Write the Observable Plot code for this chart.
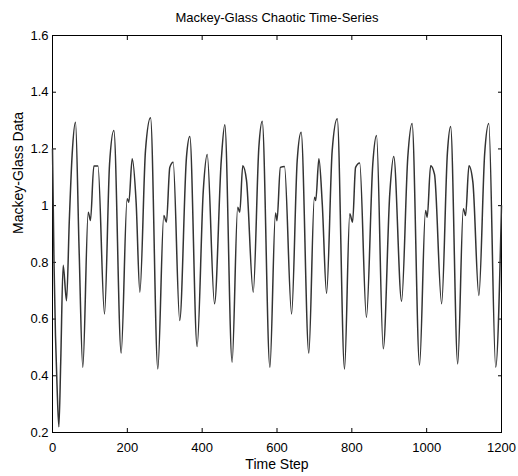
<!DOCTYPE html>
<html>
<head>
<meta charset="utf-8">
<script src="https://cdn.jsdelivr.net/npm/d3@7"></script>
<script src="https://cdn.jsdelivr.net/npm/@observablehq/plot@0.6"></script>
<style>
  html, body { margin: 0; padding: 0; background: #fff; }
  #chart { width: 518px; height: 476px; }
</style>
</head>
<body>
<div id="chart"></div>
<script>
const title = "Mackey-Glass Chaotic Time-Series";
const xLabel = "Time Step";
const yLabel = "Mackey-Glass Data";
const xTicks = [0, 200, 400, 600, 800, 1000, 1200];
const yTicks = [0.2, 0.4, 0.6, 0.8, 1.0, 1.2, 1.4, 1.6];

// Time step
const timeStep = [
  0, 4, 8, 12, 17, 22, 28.5, 37.5, 45, 52.5, 61.5, 71, 81, 95.5, 101.5, 110.5, 121.5,
  139, 152.5, 164, 183.5, 199.5, 204, 213, 223.5, 233.5, 248.5, 262, 281.5, 297.5,
  304.5, 313.5, 322.5, 340, 358, 367, 386.5, 403, 413.5, 433, 451, 460.5, 480, 495,
  500.5, 508.5, 518.5, 536.5, 551.5, 560.5, 581, 596, 600, 609, 620, 639, 654, 664.5,
  685, 700, 703.5, 712, 721, 732.5, 747.5, 761, 780.5, 794.5, 802, 810, 821, 839, 856,
  866, 884, 901.5, 912, 933, 949.5, 961, 981, 997, 1001.5, 1010.5, 1021, 1040, 1055.5,
  1064, 1083, 1098, 1104, 1113, 1123.5, 1139.5, 1155, 1166, 1184.5, 1200
];
// Mackey-Glass value
const mgValue = [
  1.20, 0.80, 0.54, 0.37, 0.22, 0.45, 0.79, 0.665, 0.95, 1.18, 1.294, 0.85, 0.43, 0.977, 0.948, 1.14, 1.14,
  0.618, 1.147, 1.265, 0.48, 1.024, 1.012, 1.165, 1.012, 0.695, 1.194, 1.31, 0.424, 0.965,
  0.942, 1.135, 1.153, 0.595, 1.17, 1.244, 0.503, 1.053, 1.18, 0.654, 1.159, 1.285, 0.448, 0.994,
  0.977, 1.141, 1.089, 0.695, 1.206, 1.298, 0.43, 0.974, 0.947, 1.135, 1.138, 0.618, 1.159, 1.259,
  0.48, 1.03, 1.018, 1.165, 1.006, 0.691, 1.194, 1.306, 0.424, 0.971, 0.942, 1.135, 1.15, 0.606, 1.147,
  1.247, 0.495, 1.044, 1.173, 0.663, 1.17, 1.29, 0.438, 0.983, 0.959, 1.141, 1.11, 0.654, 1.188,
  1.279, 0.442, 0.989, 0.965, 1.141, 1.083, 0.683, 1.183, 1.29, 0.43, 1.0
];

const data = timeStep.map((t, i) => ({t, v: mgValue[i]}));
const fmt = d => String(+d.toFixed(1));
const font = "'Liberation Sans', Arial, Helvetica, sans-serif";

const chart = Plot.plot({
  width: 518,
  height: 476,
  marginLeft: 52,
  marginRight: 17,
  marginTop: 35,
  marginBottom: 44,
  style: {fontFamily: font, fontSize: "13px", color: "#000", background: "#fff"},
  x: {domain: [0, 1200]},
  y: {domain: [0.2, 1.6]},
  marks: [
    Plot.frame({stroke: "#000", strokeWidth: 1}),
    Plot.axisX(xTicks, {anchor: "bottom", tickSize: -4, tickPadding: 14, tickFormat: fmt, label: null}),
    Plot.axisX(xTicks, {anchor: "top", tickSize: -4, tickFormat: () => "", label: null}),
    Plot.axisY(yTicks, {anchor: "left", tickSize: -4, tickPadding: 8, tickFormat: fmt, label: null}),
    Plot.axisY(yTicks, {anchor: "right", tickSize: -4, tickFormat: () => "", label: null}),
    Plot.line(data, {x: "t", y: "v", stroke: "#333", strokeWidth: 1.5, curve: "monotone-x"}),
    Plot.text([title], {frameAnchor: "top", dy: -18, lineAnchor: "middle", fontSize: 13, fill: "#000"}),
    Plot.text([xLabel], {frameAnchor: "bottom", dy: 32, lineAnchor: "middle", fontSize: 14, fill: "#000"}),
    Plot.text([yLabel], {frameAnchor: "left", dx: -34, rotate: -90, lineAnchor: "middle", fontSize: 14, fill: "#000"})
  ]
});
document.getElementById("chart").appendChild(chart);
</script>
</body>
</html>
